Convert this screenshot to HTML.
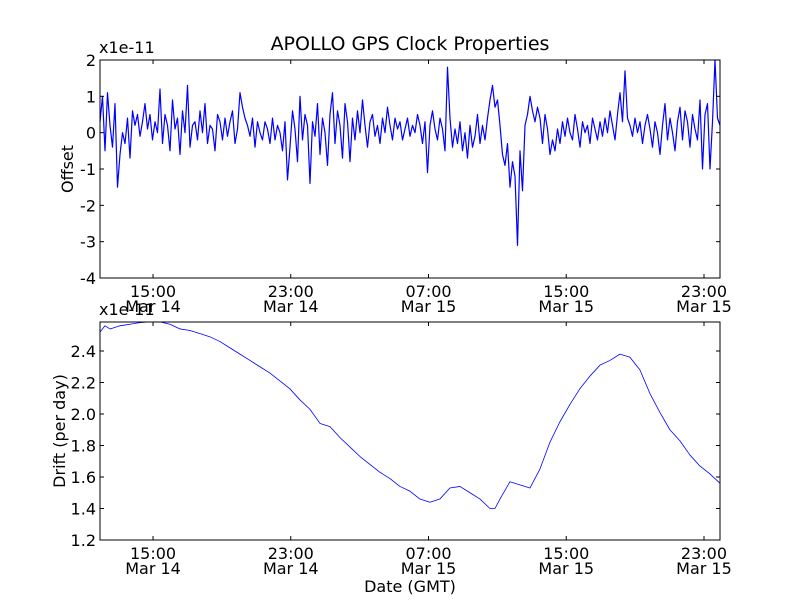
<!DOCTYPE html>
<html><head><meta charset="utf-8"><style>
body{margin:0;background:#fff;}
svg{display:block;font-family:"DejaVu Sans","Liberation Sans",sans-serif;}
</style></head><body>
<svg id="c" width="800" height="600"></svg>
<script>
const xTickHours=[15,23,31,39,47];
const xTickTimes=["15:00","23:00","07:00","15:00","23:00"];
const xTickDates=["Mar 14","Mar 14","Mar 15","Mar 15","Mar 15"];
const offsetTicks=[-4,-3,-2,-1,0,1,2];
const driftTicks=[1.2,1.4,1.6,1.8,2.0,2.2,2.4];
const offsetValues=[0.3,1.0,-0.5,1.1,0.2,-0.4,0.8,-1.5,-0.6,0.0,-0.3,0.4,-0.7,0.6,0.2,0.5,-0.1,0.3,0.8,0.1,
0.5,-0.2,0.3,0.0,1.2,-0.3,0.5,0.2,-0.5,0.9,0.1,0.4,-0.6,0.6,0.0,1.3,-0.4,0.2,0.3,-0.2,
0.6,0.0,0.8,-0.3,0.2,0.1,-0.5,0.5,0.3,-0.2,0.4,-0.1,0.3,0.6,-0.3,0.1,1.1,0.7,0.4,0.2,
-0.1,0.4,-0.4,0.3,0.0,-0.2,0.3,0.1,-0.3,0.4,-0.2,0.2,0.0,-0.5,0.3,-1.3,-0.4,0.6,0.1,-0.8,
1.0,-0.2,0.5,0.2,-1.4,0.3,-0.1,0.8,-0.6,0.4,0.0,-0.9,0.5,1.1,-0.3,0.6,0.2,-0.7,0.8,0.3,
-0.8,0.4,-0.2,0.6,0.0,0.9,0.2,-0.4,0.3,0.5,-0.1,0.2,-0.3,0.4,0.0,0.7,0.2,-0.2,0.4,0.1,
0.3,-0.2,0.1,0.4,-0.1,0.2,0.0,0.5,0.2,-0.3,0.3,-1.1,0.2,0.6,0.1,-0.2,0.4,0.1,-0.5,1.8,
0.4,-0.4,0.1,-0.3,0.3,-0.5,0.0,-0.7,0.2,-0.4,-0.1,0.5,-0.3,0.2,-0.2,0.4,0.9,1.3,0.7,0.9,
0.2,-0.6,-0.9,-0.3,-1.5,-0.8,-1.2,-3.1,-0.5,-1.6,0.2,0.5,1.0,0.6,0.3,0.7,0.4,-0.3,0.5,0.1,
-0.6,-0.2,-0.5,0.1,-0.3,0.3,-0.1,0.4,0.0,-0.2,0.5,0.1,-0.4,0.3,0.0,0.2,-0.3,0.4,0.1,-0.2,
0.3,-0.1,0.4,0.0,0.6,0.2,-0.2,0.5,1.1,0.3,1.7,0.4,0.2,-0.1,0.4,0.0,0.3,-0.3,0.2,0.5,
0.1,-0.4,0.3,0.0,-0.6,0.2,0.8,-0.2,0.4,0.0,-0.5,0.3,0.7,-0.2,0.6,0.3,-0.4,0.5,0.1,-0.2,
0.9,-1.0,0.5,0.8,-1.0,0.3,2.0,0.4,0.2];
const driftHours=[11.92,12.21,12.50,13.08,13.66,14.24,14.82,15.40,15.98,16.57,17.15,17.73,18.31,18.89,19.47,20.05,20.63,21.21,21.79,22.37,22.95,23.53,24.11,24.70,25.28,25.86,26.44,27.02,27.60,28.18,28.76,29.34,29.92,30.50,31.08,31.66,32.24,32.83,33.41,33.99,34.57,34.86,35.15,35.73,36.31,36.89,37.47,38.05,38.63,39.21,39.79,40.37,40.96,41.54,42.12,42.70,43.28,43.86,44.44,45.02,45.60,46.18,46.76,47.34,47.93];
const driftValues=[2.52,2.56,2.54,2.56,2.57,2.58,2.585,2.585,2.57,2.54,2.53,2.51,2.49,2.46,2.42,2.38,2.34,2.30,2.26,2.21,2.16,2.09,2.03,1.94,1.92,1.85,1.79,1.73,1.68,1.63,1.59,1.54,1.51,1.46,1.44,1.46,1.53,1.54,1.50,1.46,1.40,1.40,1.46,1.57,1.55,1.53,1.65,1.82,1.95,2.06,2.16,2.24,2.31,2.34,2.38,2.36,2.28,2.13,2.01,1.90,1.83,1.74,1.67,1.62,1.56];

const NS="http://www.w3.org/2000/svg";
const svg=document.getElementById('c');
function el(tag,attrs,parent){const e=document.createElementNS(NS,tag);for(const k in attrs)e.setAttribute(k,attrs[k]);(parent||svg).appendChild(e);return e;}
const XMIN=11.92,XMAX=47.93,L=100,R=720,FS=16;
function xs(h){return L+(h-XMIN)/(XMAX-XMIN)*(R-L);}

function axes(name,top,bot,ymin,ymax,yticks,fmt,ylabel,ylx,data,lw){
  const g=el('g',{});
  
  
  const ys=v=>bot-(v-ymin)/(ymax-ymin)*(bot-top);
  const clipId=name+'-clip';
  const cp=el('clipPath',{id:clipId},g);el('rect',{x:L,y:top,width:R-L,height:bot-top},cp);
  const d=data.map((p,i)=>(i?'L':'M')+xs(p[0]).toFixed(2)+' '+ys(p[1]).toFixed(2)).join('');
  const line=el('path',{d:d,fill:'none',stroke:'#0000ff','stroke-width':lw,'stroke-linejoin':'round','clip-path':'url(#'+clipId+')'},g);
  
  
  xTickHours.forEach((h,i)=>{const x=xs(h);
    el('line',{x1:x,x2:x,y1:bot,y2:bot-4,stroke:'#000'},g);
    el('line',{x1:x,x2:x,y1:top,y2:top+4,stroke:'#000'},g);
    const t=el('text',{x:x,y:bot+19,'text-anchor':'middle','font-size':FS},g);t.textContent=xTickTimes[i];
    
    
    const t2=el('text',{x:x,y:bot+34,'text-anchor':'middle','font-size':FS},g);t2.textContent=xTickDates[i];
    
    
  });
  yticks.forEach(v=>{const y=ys(v);
    el('line',{x1:L,x2:L+4,y1:y,y2:y,stroke:'#000'},g);
    el('line',{x1:R,x2:R-4,y1:y,y2:y,stroke:'#000'},g);
    const t=el('text',{x:L-4,y:y+6,'text-anchor':'end','font-size':FS},g);t.textContent=fmt(v);
    
    
  });
  el('rect',{x:L,y:top,width:R-L,height:bot-top,fill:'none',stroke:'#000','stroke-width':1},g);
  const off=el('text',{x:L-1,y:top-7,'font-size':FS},g);off.textContent='x1e-11';
  
  
  const yl=el('text',{x:0,y:0,'text-anchor':'middle','font-size':FS,transform:'translate('+ylx+','+((top+bot)/2)+') rotate(-90)'},g);yl.textContent=ylabel;
  
  
}
const offData=offsetValues.map((v,i)=>[XMIN+i*(XMAX-XMIN)/(offsetValues.length-1),v]);
axes('offset-axes',60,278,-4,2,offsetTicks,v=>String(v),'Offset',73,offData,1.2);
const driftData=driftHours.map((h,i)=>[h,driftValues[i]]);
axes('drift-axes',322,540,1.2,1.2+218/157.5,driftTicks,v=>v.toFixed(1),'Drift (per day)',65,driftData,0.8);
const title=el('text',{x:410,y:50,'text-anchor':'middle','font-size':19});title.textContent='APOLLO GPS Clock Properties';


const xl=el('text',{x:410,y:592,'text-anchor':'middle','font-size':FS});xl.textContent='Date (GMT)';


</script>
</body></html>
